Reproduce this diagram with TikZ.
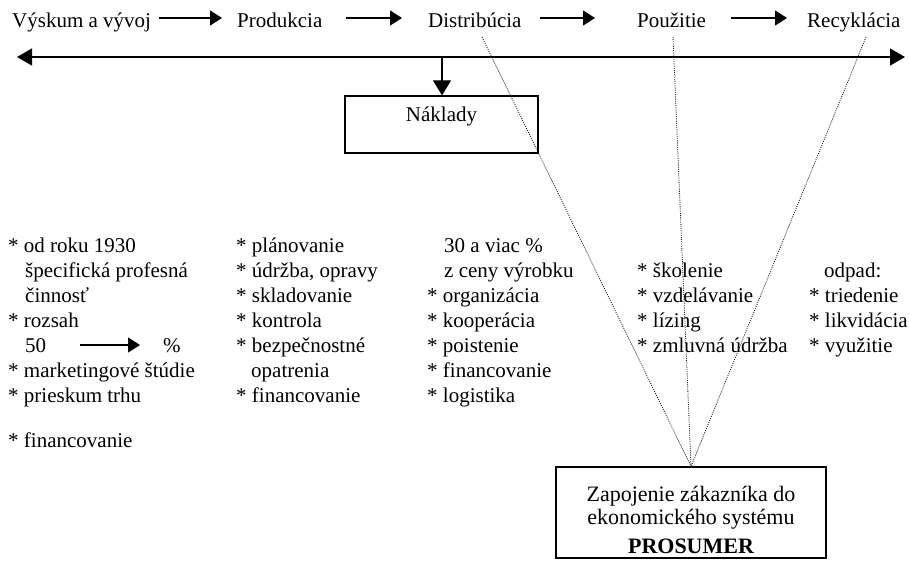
\documentclass[tikz,border=0pt]{standalone}
\usepackage{fontspec}
\setmainfont{Liberation Serif}
\usetikzlibrary{arrows.meta}
\newcommand\fsz{\fontsize{21}{25}\selectfont}
\newcommand\fsb{\fontsize{22}{26}\selectfont}
\tikzset{
  txt/.style={inner sep=0pt, anchor=base west, font=\fsz},
  ctxt/.style={inner sep=0pt, anchor=base, font=\fsb},
  flow/.style={line width=1.2pt, -{Triangle[length=12pt,width=15pt]}},
  axis/.style={line width=1.2pt, {Triangle[length=15pt,width=17pt]}-{Triangle[length=15pt,width=17pt]}},
  downarr/.style={line width=1.2pt, -{Triangle[length=15pt,width=18pt]}},
  box/.style={draw, line width=1.3pt, inner sep=0pt},
  dots/.style={line width=0.8pt, dash pattern=on 1pt off 1.2pt, black!90}
}
\begin{document}
\begin{tikzpicture}[x=1pt,y=-1pt]
\useasboundingbox (0,0) rectangle (909,560);
% top row
\node[txt] (vyskum) at (12,27) {Výskum a vývoj};
\node[txt] (produkcia) at (237,27) {Produkcia};
\node[txt] (distribucia) at (428,27) {Distribúcia};
\node[txt] (pouzitie) at (637,27) {Použitie};
\node[txt] (recyklacia) at (807,27) {Recyklácia};
\draw[flow] ([xshift=8pt,yshift=9pt]vyskum.base east) -- ([xshift=-15pt,yshift=9pt]produkcia.base west);
\draw[flow] ([xshift=23pt,yshift=9pt]produkcia.base east) -- ([xshift=-26pt,yshift=9pt]distribucia.base west);
\draw[flow] ([xshift=18pt,yshift=9pt]distribucia.base east) -- ([xshift=-42pt,yshift=9pt]pouzitie.base west);
\draw[flow] ([xshift=25pt,yshift=9pt]pouzitie.base east) -- ([xshift=-20pt,yshift=9pt]recyklacia.base west);
% axis
\coordinate (axL) at (17,57);
\coordinate (axR) at (905,57);
\coordinate (axM) at (442,57);
\draw[axis] (axL) -- (axR);
% Naklady
\node[box, minimum width=193pt, minimum height=57pt] (naklady) at (441.5,124.5) {};
\node[txt, anchor=base] (nakladytxt) at (441.5,121) {Náklady};
\draw[downarr] (axM) -- (axM |- naklady.north);
% Prosumer box
\node[box, minimum width=270pt, minimum height=91pt] (prosumer) at (691,512.5) {};
\node[ctxt] (p1) at (691,501) {Zapojenie zákazníka do};
\node[ctxt] (p2) at (691,524) {ekonomického systému};
\node[ctxt, font=\fsb\bfseries] (p3) at (691,553) {PROSUMER};
% dotted lines
\coordinate (d1) at (482,37);
\coordinate (d2) at (673,37);
\coordinate (d3) at (866,37);
\draw[dots] (d1) -- (prosumer.north);
\draw[dots] (d2) -- (prosumer.north);
\draw[dots] (d3) -- (prosumer.north);
% column 1
\node[txt] (a1) at (8,252) {* od roku 1930};
\node[txt] (a2) at (25,277) {špecifická profesná};
\node[txt] (a3) at (25,302) {činnosť};
\node[txt] (a4) at (8,327) {* rozsah};
\node[txt] (fifty) at (25,352) {50};
\node[txt] (pct) at (163,352) {\%};
\draw[flow] ([xshift=34pt,yshift=7pt]fifty.base east) -- ([xshift=-23pt,yshift=7pt]pct.base west);
\node[txt] (a6) at (8,377) {* marketingové štúdie};
\node[txt] (a7) at (8,402) {* prieskum trhu};
\node[txt] (a8) at (8,447) {* financovanie};
% column 2
\node[txt] (b1) at (236,252) {* plánovanie};
\node[txt] (b2) at (236,277) {* údržba, opravy};
\node[txt] (b3) at (236,302) {* skladovanie};
\node[txt] (b4) at (236,327) {* kontrola};
\node[txt] (b5) at (236,352) {* bezpečnostné};
\node[txt] (b6) at (251,377) {opatrenia};
\node[txt] (b7) at (236,402) {* financovanie};
% column 3
\node[txt] (c1) at (444,252) {30 a viac \%};
\node[txt] (c2) at (444,277) {z ceny výrobku};
\node[txt] (c3) at (427,302) {* organizácia};
\node[txt] (c4) at (427,327) {* kooperácia};
\node[txt] (c5) at (427,352) {* poistenie};
\node[txt] (c6) at (427,377) {* financovanie};
\node[txt] (c7) at (427,402) {* logistika};
% column 4
\node[txt] (e1) at (637,277) {* školenie};
\node[txt] (e2) at (637,302) {* vzdelávanie};
\node[txt] (e3) at (637,327) {* lízing};
\node[txt] (e4) at (637,352) {* zmluvná údržba};
% column 5
\node[txt] (f1) at (824,277) {odpad:};
\node[txt] (f2) at (809,302) {* triedenie};
\node[txt] (f3) at (809,327) {* likvidácia};
\node[txt] (f4) at (809,352) {* využitie};
\end{tikzpicture}
\end{document}
